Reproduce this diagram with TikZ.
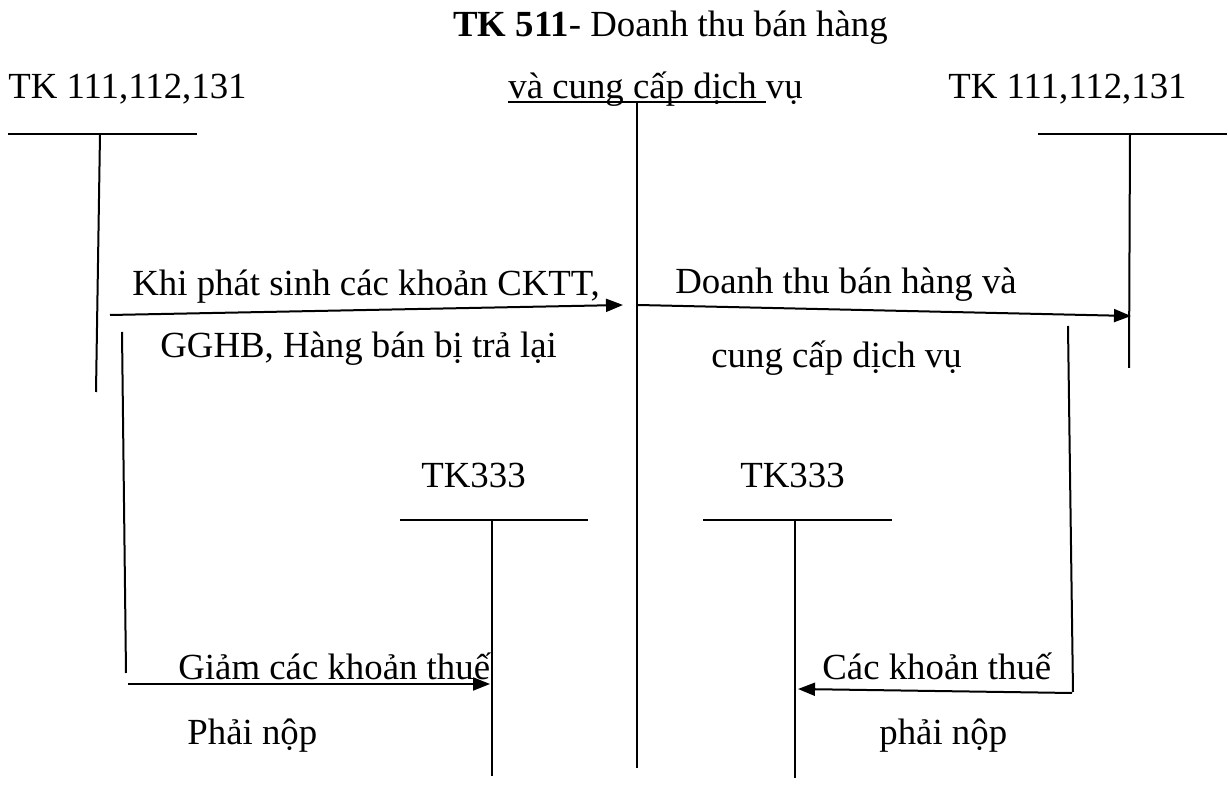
\documentclass[tikz,border=0pt]{standalone}
\usepackage{fontspec}
\setmainfont{Liberation Serif}
\usetikzlibrary{arrows.meta,calc}
\begin{document}
\begin{tikzpicture}[x=0.5pt,y=-0.5pt,
  lbl/.style={anchor=base west,inner sep=0pt,font=\fontsize{18.4}{22}\selectfont},
  ln/.style={line width=1pt},
  arr/.style={ln,-{Triangle[length=8.5pt,width=6.5pt]}}]
\useasboundingbox (0,0) rectangle (1228,796);

% ---- headings ----
\node[lbl] (title) at (453,37) {\textbf{TK 511}- Doanh thu bán hàng};
\node[lbl] (tkL)   at (8,99)   {TK 111,112,131};
\node[lbl] (sub)   at (508,99) {và cung cấp dịch vụ};
\node[lbl] (tkR)   at (948,99) {TK 111,112,131};
\draw[line width=0.8pt] ($(sub.base west)+(0,3)$) -- ($(sub.base west)+(258,3)$);

% ---- account TK 511 (centre line) ----
\coordinate (m1) at (637,103);
\coordinate (m2) at (637,768);
\draw[ln] (m1) -- (m2);

% ---- left T account ----
\coordinate (lh1) at (8,134);  \coordinate (lh2) at (197,134);
\coordinate (lv1) at (100,134); \coordinate (lv2) at (96,392);
\draw[ln] (lh1) -- (lh2);
\draw[ln] (lv1) -- (lv2);

% ---- right T account ----
\coordinate (rh1) at (1038,134); \coordinate (rh2) at (1227,134);
\coordinate (rv1) at (1130,134); \coordinate (rv2) at (1129,368);
\draw[ln] (rh1) -- (rh2);
\draw[ln] (rv1) -- (rv2);

% ---- TK333 accounts ----
\node[lbl] (t3L) at (421,488) {TK333};
\node[lbl] (t3R) at (740,488) {TK333};
\coordinate (ah1) at (400,520); \coordinate (ah2) at (588,520);
\coordinate (av1) at (492,520); \coordinate (av2) at (492,776);
\coordinate (bh1) at (703,520); \coordinate (bh2) at (892,520);
\coordinate (bv1) at (795,520); \coordinate (bv2) at (795,778);
\draw[ln] (ah1) -- (ah2);
\draw[ln] (av1) -- (av2);
\draw[ln] (bh1) -- (bh2);
\draw[ln] (bv1) -- (bv2);

% ---- upper flows ----
\coordinate (a1s) at (110,315); \coordinate (a1e) at (623,305);
\draw[arr] (a1s) -- (a1e);
\node[lbl] (k1) at (132,296) {Khi phát sinh các khoản CKTT,};
\node[lbl] (k2) at (160,358) {GGHB, Hàng bán bị trả lại};

\coordinate (a2s) at (638,305); \coordinate (a2e) at (1131,316);
\draw[arr] (a2s) -- (a2e);
\node[lbl] (d1) at (675,294) {Doanh thu bán hàng và};
\node[lbl] (d2) at (711,368) {cung cấp dịch vụ};

% ---- lower flows ----
\coordinate (p1) at (122,332); \coordinate (p2) at (126,673);
\draw[ln] (p1) -- (p2);
\coordinate (a3s) at (128,684); \coordinate (a3e) at (490,684);
\draw[arr] (a3s) -- (a3e);
\node[lbl] (g1) at (178,680) {Giảm các khoản thuế};
\node[lbl] (g2) at (187,745) {Phải nộp};

\coordinate (q1) at (1068,326); \coordinate (q2) at (1073,692);
\draw[ln] (q1) -- (q2);
\coordinate (a4s) at (1072,693); \coordinate (a4e) at (798,689);
\draw[arr] (a4s) -- (a4e);
\node[lbl] (c1) at (822,680) {Các khoản thuế};
\node[lbl] (c2) at (879,745) {phải nộp};
\end{tikzpicture}
\end{document}
